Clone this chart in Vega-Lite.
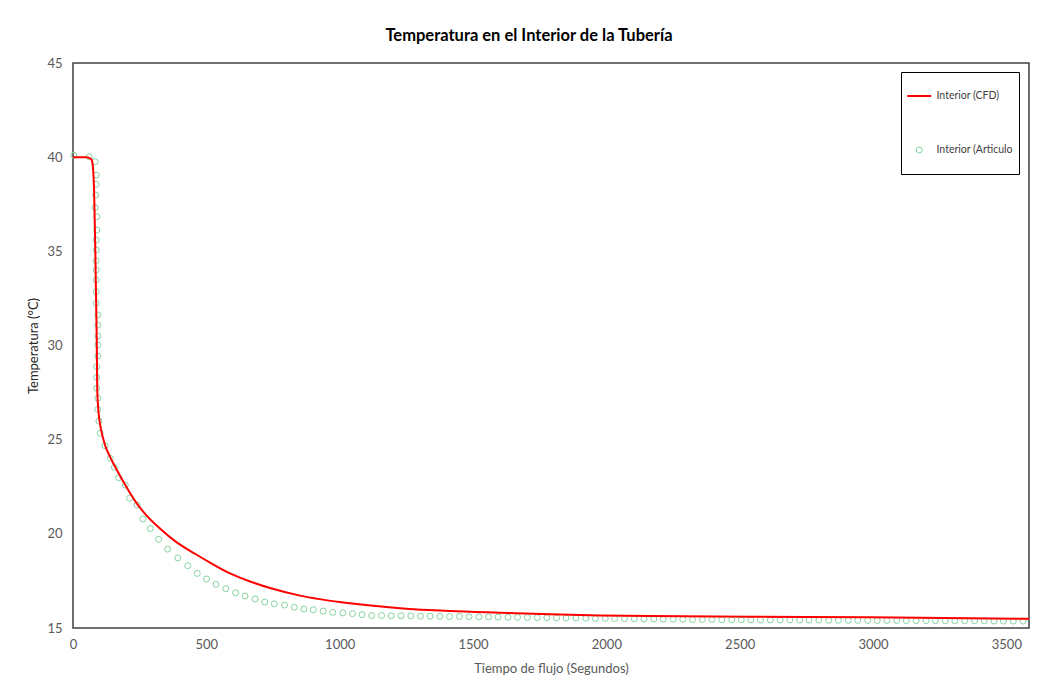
{
  "$schema": "https://vega.github.io/schema/vega-lite/v6.json",
  "width": 956,
  "height": 565,
  "autosize": {"type": "none"},
  "padding": {"left": 73, "top": 63, "right": 15, "bottom": 62},
  "background": "white",
  "config": {"font": "Lato", "view": {"stroke": "#404040", "strokeWidth": 1.5}},
  "title": {"text": "Temperatura en el Interior de la Tubería", "fontSize": 16.5, "fontWeight": "bold", "color": "#000000", "anchor": "middle", "frame": "group", "dx": -22, "offset": 13, "font": "Lato"},
  "datasets": {
    "cfd": [
      {"t": 0, "T": 40}, {"t": 49, "T": 40}, {"t": 62, "T": 39.95}, {"t": 69, "T": 39.88}, {"t": 73, "T": 39.69},
      {"t": 79, "T": 38.26}, {"t": 83, "T": 35.6}, {"t": 86, "T": 32.95}, {"t": 89, "T": 30.29}, {"t": 91, "T": 27.64},
      {"t": 96, "T": 26.42}, {"t": 102, "T": 25.78}, {"t": 120, "T": 24.72}, {"t": 139, "T": 24.09}, {"t": 158, "T": 23.56},
      {"t": 196, "T": 22.59}, {"t": 233, "T": 21.74}, {"t": 271, "T": 21.05}, {"t": 328, "T": 20.26}, {"t": 384, "T": 19.6},
      {"t": 459, "T": 18.93}, {"t": 514, "T": 18.47}, {"t": 589, "T": 17.9}, {"t": 664, "T": 17.47}, {"t": 739, "T": 17.12},
      {"t": 851, "T": 16.72}, {"t": 1039, "T": 16.31}, {"t": 1226, "T": 16.05}, {"t": 1414, "T": 15.9}, {"t": 1601, "T": 15.81},
      {"t": 1789, "T": 15.73}, {"t": 1977, "T": 15.67}, {"t": 2164, "T": 15.64}, {"t": 2538, "T": 15.6}, {"t": 2988, "T": 15.57},
      {"t": 3585, "T": 15.49}
    ],
    "art": [
      {"t": 3, "T": 40.1}, {"t": 61, "T": 40.02}, {"t": 83, "T": 39.76}, {"t": 87, "T": 39.05}, {"t": 87, "T": 38.56},
      {"t": 85, "T": 37.99}, {"t": 83, "T": 37.32}, {"t": 89, "T": 36.84}, {"t": 89, "T": 36.13}, {"t": 87, "T": 35.6},
      {"t": 87, "T": 35.07}, {"t": 87, "T": 34.5}, {"t": 87, "T": 34.01}, {"t": 87, "T": 33.48}, {"t": 87, "T": 32.86},
      {"t": 87, "T": 32.24}, {"t": 93, "T": 31.62}, {"t": 93, "T": 31.09}, {"t": 93, "T": 30.5}, {"t": 93, "T": 30.03},
      {"t": 93, "T": 29.44}, {"t": 89, "T": 28.87}, {"t": 89, "T": 28.31}, {"t": 89, "T": 27.73}, {"t": 93, "T": 27.2},
      {"t": 93, "T": 26.61}, {"t": 97, "T": 25.99}, {"t": 102, "T": 25.34}, {"t": 120, "T": 24.68}, {"t": 140, "T": 24.01},
      {"t": 155, "T": 23.53}, {"t": 171, "T": 22.98}, {"t": 196, "T": 22.59}, {"t": 212, "T": 21.89}, {"t": 240, "T": 21.53},
      {"t": 262, "T": 20.79}, {"t": 290, "T": 20.28}, {"t": 321, "T": 19.71}, {"t": 355, "T": 19.19}, {"t": 393, "T": 18.72},
      {"t": 430, "T": 18.31}, {"t": 466, "T": 17.9}, {"t": 501, "T": 17.6}, {"t": 536, "T": 17.32}, {"t": 573, "T": 17.09},
      {"t": 610, "T": 16.87}, {"t": 645, "T": 16.7}, {"t": 683, "T": 16.54}, {"t": 719, "T": 16.38}, {"t": 755, "T": 16.29},
      {"t": 793, "T": 16.22}, {"t": 830, "T": 16.1}, {"t": 866, "T": 16.01}, {"t": 901, "T": 15.97}, {"t": 938, "T": 15.9},
      {"t": 974, "T": 15.83}, {"t": 1012, "T": 15.8}, {"t": 1048, "T": 15.76}, {"t": 1084, "T": 15.71}, {"t": 1120, "T": 15.66},
      {"t": 1157, "T": 15.66}, {"t": 1194, "T": 15.65}, {"t": 1230, "T": 15.65}, {"t": 1267, "T": 15.64}, {"t": 1303, "T": 15.63},
      {"t": 1339, "T": 15.63}, {"t": 1376, "T": 15.62}, {"t": 1412, "T": 15.61}, {"t": 1449, "T": 15.61}, {"t": 1485, "T": 15.6},
      {"t": 1522, "T": 15.59}, {"t": 1558, "T": 15.59}, {"t": 1594, "T": 15.58}, {"t": 1631, "T": 15.57}, {"t": 1667, "T": 15.57},
      {"t": 1704, "T": 15.56}, {"t": 1741, "T": 15.55}, {"t": 1777, "T": 15.55}, {"t": 1813, "T": 15.54}, {"t": 1849, "T": 15.53},
      {"t": 1886, "T": 15.53}, {"t": 1923, "T": 15.52}, {"t": 1959, "T": 15.51}, {"t": 1996, "T": 15.51}, {"t": 2031, "T": 15.5},
      {"t": 2068, "T": 15.5}, {"t": 2105, "T": 15.49}, {"t": 2141, "T": 15.48}, {"t": 2178, "T": 15.48}, {"t": 2214, "T": 15.47},
      {"t": 2251, "T": 15.47}, {"t": 2287, "T": 15.46}, {"t": 2323, "T": 15.45}, {"t": 2360, "T": 15.45}, {"t": 2396, "T": 15.45},
      {"t": 2433, "T": 15.44}, {"t": 2470, "T": 15.44}, {"t": 2506, "T": 15.44}, {"t": 2542, "T": 15.44}, {"t": 2578, "T": 15.43},
      {"t": 2615, "T": 15.43}, {"t": 2652, "T": 15.43}, {"t": 2688, "T": 15.43}, {"t": 2725, "T": 15.42}, {"t": 2760, "T": 15.42},
      {"t": 2797, "T": 15.42}, {"t": 2834, "T": 15.41}, {"t": 2870, "T": 15.41}, {"t": 2907, "T": 15.41}, {"t": 2943, "T": 15.41},
      {"t": 2980, "T": 15.4}, {"t": 3016, "T": 15.4}, {"t": 3052, "T": 15.4}, {"t": 3089, "T": 15.4}, {"t": 3125, "T": 15.39},
      {"t": 3162, "T": 15.39}, {"t": 3199, "T": 15.39}, {"t": 3234, "T": 15.39}, {"t": 3271, "T": 15.38}, {"t": 3307, "T": 15.38},
      {"t": 3344, "T": 15.38}, {"t": 3381, "T": 15.38}, {"t": 3417, "T": 15.38}, {"t": 3454, "T": 15.37}, {"t": 3489, "T": 15.37},
      {"t": 3526, "T": 15.37}, {"t": 3563, "T": 15.37}
    ]
  },
  "layer": [
    {
      "data": {"name": "art"},
      "mark": {"type": "point", "filled": false, "color": "#86d3a0", "size": 36, "strokeWidth": 1, "opacity": 1},
      "encoding": {
        "x": {"field": "t", "type": "quantitative", "scale": {"domain": [0, 3585], "nice": false},
          "axis": {"values": [0, 500, 1000, 1500, 2000, 2500, 3000, 3500], "format": "d", "title": "Tiempo de flujo (Segundos)", "grid": false, "ticks": false, "tickSize": 0, "domain": false, "labelFlush": false,
            "labelPadding": 10, "labelFontSize": 13, "labelColor": "#595959", "titleFontSize": 13, "titleColor": "#595959", "titleFontWeight": "normal", "titlePadding": 11}},
        "y": {"field": "T", "type": "quantitative", "scale": {"domain": [15, 45], "nice": false},
          "axis": {"values": [15, 20, 25, 30, 35, 40, 45], "title": "Temperatura (°C)", "grid": false, "ticks": false, "tickSize": 0, "domain": false, "labelFlush": false,
            "labelPadding": 11, "labelFontSize": 13, "labelColor": "#595959", "titleFontSize": 13, "titleColor": "#262626", "titleFontWeight": "normal", "titlePadding": 6}}
      }
    },
    {
      "data": {"name": "cfd"},
      "mark": {"type": "line", "color": "#ff0000", "strokeWidth": 2, "interpolate": "monotone"},
      "encoding": {
        "x": {"field": "t", "type": "quantitative"},
        "y": {"field": "T", "type": "quantitative"},
        "color": {"datum": "Interior (CFD)", "type": "nominal",
          "scale": {"domain": ["Interior (CFD)", "Interior (Articulo"], "range": ["#ff0000", "#86d3a0"]},
          "legend": {"title": null, "orient": "none", "legendX": 828, "legendY": 9, "padding": 6, "strokeColor": "#000000", "fillColor": "white",
            "symbolSize": 576, "symbolType": "stroke", "symbolOffset": 7, "labelFontSize": 10.5, "labelColor": "#404040", "labelOffset": 12, "rowPadding": 18, "labelLimit": 200,
            "labelExpr": "['', datum.label, '']", "labelLineHeight": 13,
            "encode": {"symbols": {"update": {
              "shape": {"signal": "datum.value === 'Interior (CFD)' ? 'stroke' : 'circle'"},
              "size": {"signal": "datum.value === 'Interior (CFD)' ? 576 : 36"},
              "strokeWidth": {"signal": "datum.value === 'Interior (CFD)' ? 2 : 1"},
              "fill": {"value": "transparent"},
              "stroke": {"signal": "datum.value === 'Interior (CFD)' ? '#ff0000' : '#86d3a0'"},
              "y": {"value": 18},
              "opacity": {"value": 1}
            }}}}
        }
      }
    }
  ]
}
